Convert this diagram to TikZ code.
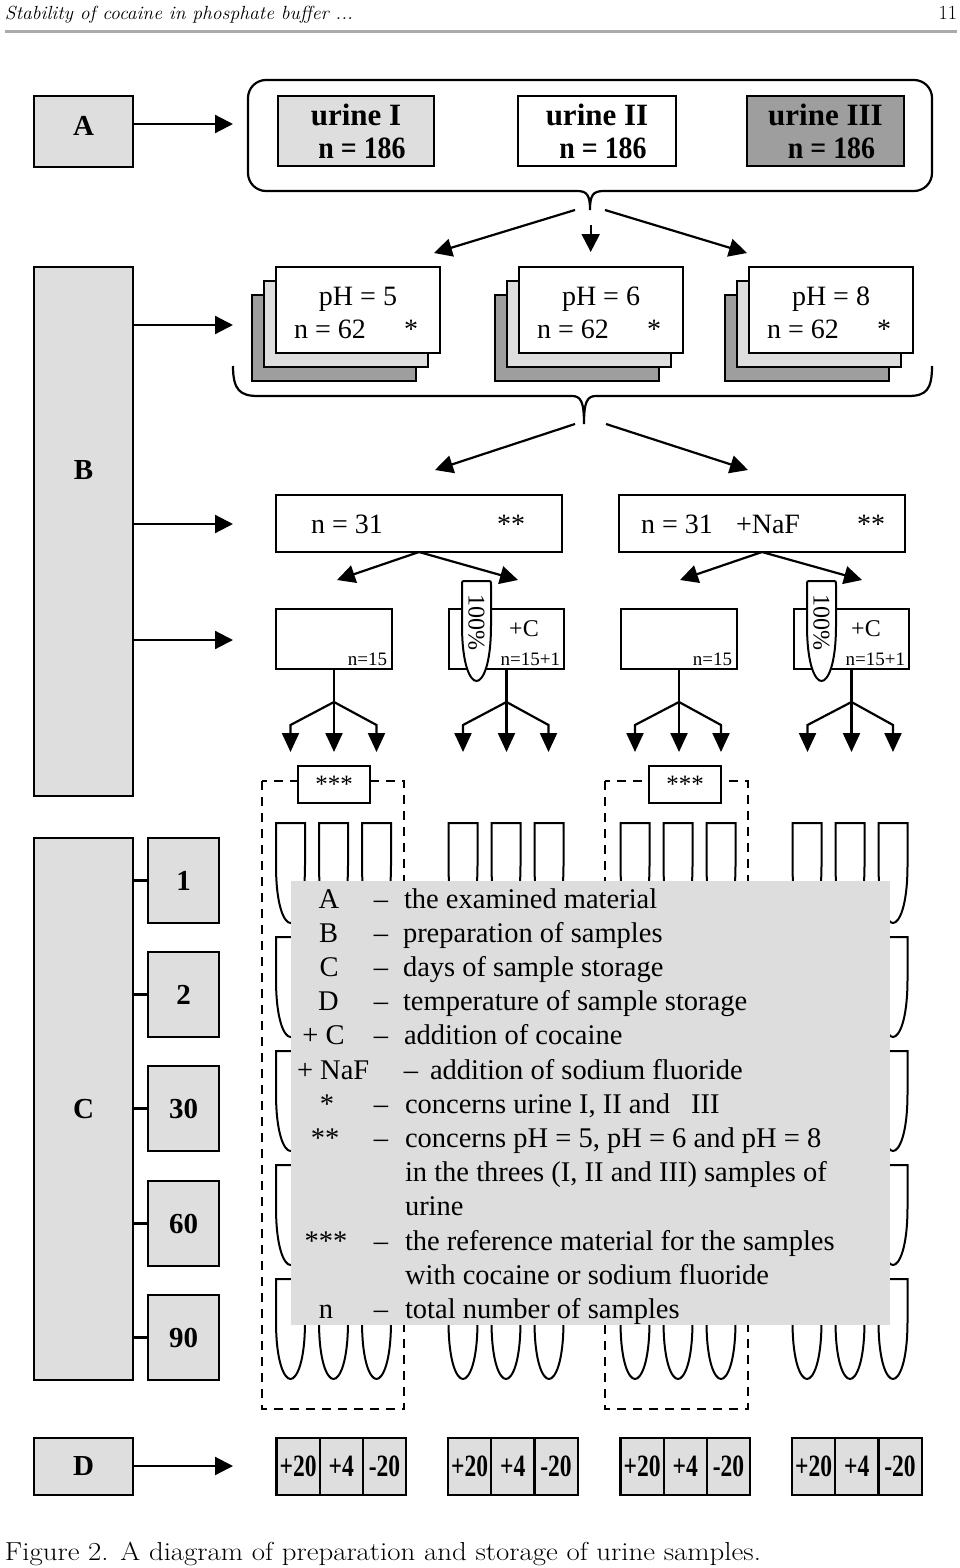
\documentclass[tikz,border=0pt]{standalone}
\usepackage{fontspec}
\newfontfamily\tnr{Liberation Serif}
\usetikzlibrary{arrows.meta}
\definecolor{lg}{RGB}{222,222,222}
\definecolor{dg}{RGB}{158,158,158}
\definecolor{legbg}{RGB}{221,221,221}
\definecolor{rulec}{RGB}{170,170,170}
\newcommand{\fsz}[1]{\fontsize{#1}{#1}\selectfont}
\newcommand{\bnode}[6]{%
  \pgfmathsetmacro\myBW{(#4)-(#2)}%
  \pgfmathsetmacro\myBH{(#5)-(#3)}%
  \pgfmathsetmacro\myCX{((#2)+(#4))/2}%
  \pgfmathsetmacro\myCY{((#3)+(#5))/2}%
  \node[#6, minimum width=\myBW pt, minimum height=\myBH pt] (#1) at (\myCX,\myCY) {};}
\newcommand{\tube}[2]{%
  \draw[tubestyle] (#1-14.5,#2) -- (#1+14.5,#2) -- (#1+14.5,#2+42)
    .. controls (#1+14.5,#2+84) and (#1+6,#2+100) .. (#1,#2+100)
    .. controls (#1-6,#2+100) and (#1-14.5,#2+84) .. (#1-14.5,#2+42) -- cycle;}
\begin{document}
\begin{tikzpicture}[x=1pt,y=-1pt,
  every node/.style={inner sep=0pt,outer sep=0pt,font=\tnr},
  box/.style={draw,line width=2.2pt},
  arr/.style={line width=2.2pt,-{Triangle[length=18pt,width=18pt]}},
  farr/.style={line width=2.2pt,-{Triangle[length=19pt,width=17pt]}},
  ln/.style={line width=2.2pt},
  dsh/.style={line width=2pt,dash pattern=on 9pt off 7pt},
  tubestyle/.style={draw,fill=white,line width=2pt},
  lbl/.style={font=\tnr\bfseries\fsz{29}},
  ubt/.style={font=\tnr\bfseries\fsz{31},anchor=base},
  rt/.style={font=\tnr\fsz{28}},
  smt/.style={font=\tnr\fsz{19},anchor=base east},
  tt/.style={font=\tnr\bfseries\fsz{31}},
  lg1/.style={font=\tnr\fsz{28.5},anchor=base},
  lgw/.style={font=\tnr\fsz{28.5},anchor=base west}]
\useasboundingbox (0,0) rectangle (960,1568);
\fill[white] (0,0) rectangle (960,1568);

% header
\node[font=\rmfamily\itshape\fsz{19},anchor=base west] (hdr) at (5,20) {\scalebox{1.03}[1]{Stability of cocaine in phosphate buffer ...}};
\node[font=\rmfamily\fsz{20},anchor=base east] (pg) at (957,20) {11};
\draw[rulec,line width=2.5pt] (hdr.base west |- 0,31.5) -- (pg.base east |- 0,31.5);

% left column
\bnode{A}{34}{96}{133}{167}{box,fill=lg}
\node[lbl] (Alb) at (83.5,126) {A};
\bnode{B}{34}{267}{133}{796}{box,fill=lg}
\node[lbl] (Blb) at (83.5,470) {B};
\bnode{C}{34}{838}{133}{1380}{box,fill=lg}
\node[lbl] (Clb) at (83.5,1109) {C};
\bnode{D}{34}{1438}{133}{1495}{box,fill=lg}
\node[lbl] (Dlb) at (83.5,1466) {D};

\coordinate (aE) at (233,124);
\draw[arr] (A.east |- aE) -- (aE);
\coordinate (bE1) at (233,325);
\coordinate (bE2) at (233,524);
\coordinate (bE3) at (233,640);
\draw[arr] (B.east |- bE1) -- (bE1);
\draw[arr] (B.east |- bE2) -- (bE2);
\draw[arr] (B.east |- bE3) -- (bE3);
\coordinate (dE) at (233,1466);
\draw[arr] (D.east |- dE) -- (dE);

% day boxes
\bnode{d1}{148}{838}{219}{923}{box,fill=lg}
\bnode{d2}{148}{952}{219}{1037}{box,fill=lg}
\bnode{d30}{148}{1066}{219}{1151}{box,fill=lg}
\bnode{d60}{148}{1181}{219}{1266}{box,fill=lg}
\bnode{d90}{148}{1295}{219}{1380}{box,fill=lg}
\node[lbl] at (d1) {1};
\node[lbl] at (d2) {2};
\node[lbl] at (d30) {30};
\node[lbl] at (d60) {60};
\node[lbl] at (d90) {90};
\foreach \d in {d1,d2,d30,d60,d90}{\draw[ln] (C.east |- \d.west) -- (\d.west);}

% urine frame
\draw[line width=2.2pt] (604,191) [rounded corners=18pt] -- (932,191) -- (932,80) -- (248,80) -- (248,191) [sharp corners] -- (577,191)
  .. controls (587,191) and (590,195) .. (590,210) .. controls (590,195) and (593,191) .. (604,191);
\bnode{u1}{278}{96}{434}{166}{box,fill=lg}
\bnode{u2}{518}{96}{676}{166}{box,fill=white}
\bnode{u3}{747}{96}{904}{166}{box,fill=dg}
\node[ubt] at (356,125) {urine I};
\node[ubt] at (362,158) {\scalebox{0.9}[1]{n = 186}};
\node[ubt] at (597,125) {urine II};
\node[ubt] at (603,158) {\scalebox{0.9}[1]{n = 186}};
\node[ubt] at (825.5,125) {urine III};
\node[ubt] at (831.5,158) {\scalebox{0.9}[1]{n = 186}};

\coordinate (t1) at (575,210);
\coordinate (t2) at (590.7,225);
\coordinate (t3) at (605,210);
\draw[arr] (t1) -- (434,253);
\draw[arr] (t2) -- (590.7,252);
\draw[arr] (t3) -- (747,253);

% pH stacks
\foreach \xl/\v [count=\i] in {276/5,519/6,749/8}{
  \bnode{phb\i}{\xl-24}{295}{\xl+140}{381}{box,fill=dg}
  \bnode{phm\i}{\xl-12}{281}{\xl+152}{367}{box,fill=lg}
  \bnode{ph\i}{\xl}{267}{\xl+164}{353}{box,fill=white}
  \node[rt,anchor=base] at (\xl+82,305) {pH = \v};
  \node[rt,anchor=base west] at (\xl+18,338) {n = 62};
  \node[rt,anchor=base] at (\xl+135,338) {*};
}
\draw[line width=2.2pt] (233,366) .. controls (233,390) and (240,396) .. (258,396) -- (572,396)
  .. controls (581,396) and (584,402) .. (584,424) .. controls (584,402) and (587,396) .. (596,396)
  -- (908,396) .. controls (926,396) and (932,390) .. (932,366);
\coordinate (s1) at (575,424);
\coordinate (s2) at (606,424);
\draw[arr] (s1) -- (435,470);
\draw[arr] (s2) -- (748,470);

% n = 31
\bnode{na}{276}{495}{562}{552}{box,fill=white}
\bnode{nb}{619}{495}{905}{552}{box,fill=white}
\node[rt,anchor=base west] at (311,533) {n = 31};
\node[rt,anchor=base] at (511,533) {**};
\node[rt,anchor=base west] at (641,533) {n = 31};
\node[rt,anchor=base west] at (736,533) {+NaF};
\node[rt,anchor=base] at (871,533) {**};
\draw[arr] (na.south) -- (337,580);
\draw[arr] (na.south) -- (518,580);
\draw[arr] (nb.south) -- (680,580);
\draw[arr] (nb.south) -- (862,580);

% n = 15 row
\bnode{r1}{276}{609}{392}{669}{box,fill=white}
\bnode{r2}{449}{609}{564}{669}{box,fill=white}
\bnode{r3}{621}{609}{737}{669}{box,fill=white}
\bnode{r4}{794}{609}{909}{669}{box,fill=white}
\node[smt] at (387,665) {n=15};
\node[smt] at (560,665) {n=15+1};
\node[smt] at (732,665) {n=15};
\node[smt] at (905,665) {n=15+1};
\node[font=\tnr\fsz{24},anchor=base] at (524,636) {+C};
\node[font=\tnr\fsz{24},anchor=base] at (866,636) {+C};
% 100% tubes
\foreach \cx/\nm in {476.5/pa,821.5/pb}{
  \draw[tubestyle] (\cx-14.5,585) .. controls (\cx-14.5,581) .. (\cx-10.5,581) -- (\cx+10.5,581) .. controls (\cx+14.5,581) .. (\cx+14.5,585) -- (\cx+14.5,625)
    .. controls (\cx+14.5,666) and (\cx+6,681) .. (\cx,681)
    .. controls (\cx-6,681) and (\cx-14.5,666) .. (\cx-14.5,625) -- cycle;
  \node[font=\tnr\fsz{24},rotate=-90] (\nm) at (\cx,622) {100\%};
}

% forks
\foreach \r/\cx/\lx/\rx in {r1/334/290.5/376.5, r2/506.5/463/548.5, r3/679/635/721, r4/851.5/807.5/893}{
  \coordinate (j) at (\cx,702);
  \draw[ln] (\r.south) -- (j);
  \draw[farr] (j) -- (\lx,725) -- (\lx,752);
  \draw[farr] (j) -- (\cx,752);
  \draw[farr] (j) -- (\rx,725) -- (\rx,752);
}

% dashed reference frames
\draw[dsh] (261.5,781) rectangle (404,1409);
\draw[dsh] (605,781) rectangle (747.5,1409);
\bnode{ra}{298}{766}{370}{803}{box,fill=white}
\bnode{rb}{649}{766}{721}{803}{box,fill=white}
\node[font=\tnr\fsz{25}] at (ra) {***};
\node[font=\tnr\fsz{25}] at (rb) {***};

% tubes
\foreach \yt in {823,937,1051,1165,1279}{
  \foreach \cx in {290.5,333.5,376.5,463,506,549,635,678,721,807,850,893}{
    \tube{\cx}{\yt}
  }
}

% temperatures
\foreach \xl [count=\i] in {276.5,448,620.5,792}{
  \bnode{tA\i}{\xl}{1438}{\xl+43.2}{1495}{box,fill=lg}
  \bnode{tB\i}{\xl+43.2}{1438}{\xl+86.4}{1495}{box,fill=lg}
  \bnode{tC\i}{\xl+86.4}{1438}{\xl+129.6}{1495}{box,fill=lg}
  \node[tt] at (tA\i) {\scalebox{0.76}[1]{+20}};
  \node[tt] at (tB\i) {\scalebox{0.76}[1]{+4}};
  \node[tt] at (tC\i) {\scalebox{0.76}[1]{-20}};
}

% legend
\bnode{leg}{290.5}{880.5}{890}{1325}{fill=legbg}
\node[lg1] at (329,908) {A};
\node[lg1] at (328.5,942.2) {B};
\node[lg1] at (329,976.4) {C};
\node[lg1] at (328.5,1010.6) {D};
\node[lg1] at (323.5,1044.8) {+ C};
\node[lgw] at (297,1079) {+ NaF};
\node[lg1] at (327,1113.2) {*};
\node[lg1] at (325,1147.4) {**};
\node[lg1] at (326,1250) {***};
\node[lg1] at (326,1318.4) {n};
\foreach \yb in {908,942.2,976.4,1010.6,1044.8,1113.2,1147.4,1250,1318.4}{
  \node[lg1] at (381,\yb) {\textendash};
}
\node[lg1] at (411,1079) {\textendash};
\node[lgw] at (404,908) {the examined material};
\node[lgw] at (403,942.2) {preparation of samples};
\node[lgw] at (403,976.4) {days of sample storage};
\node[lgw] at (403,1010.6) {temperature of sample storage};
\node[lgw] at (404,1044.8) {addition of cocaine};
\node[lgw] at (430,1079) {addition of sodium fluoride};
\node[lgw] at (405,1113.2) {concerns urine I, II and\hspace{14pt} III};
\node[lgw] at (405,1147.4) {concerns pH = 5, pH = 6 and pH = 8};
\node[lgw] at (405,1181.6) {in the threes (I, II and III) samples of};
\node[lgw] at (405,1215.8) {urine};
\node[lgw] at (405,1250) {the reference material for the samples};
\node[lgw] at (405,1284.2) {with cocaine or sodium fluoride};
\node[lgw] at (405,1318.4) {total number of samples};

% caption
\node[font=\rmfamily\fsz{26},anchor=base west] (cap) at (5,1560) {\scalebox{1.11}[1]{Figure 2. A diagram of preparation and storage of urine samples.}};
\end{tikzpicture}
\end{document}
